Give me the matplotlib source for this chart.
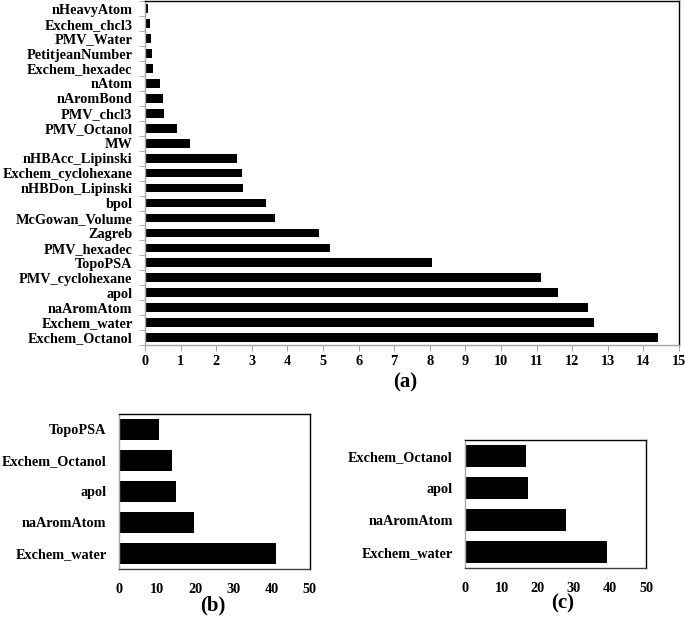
import matplotlib
matplotlib.use("Agg")
import matplotlib.pyplot as plt
import numpy as np

plt.rcParams['font.family'] = ['Liberation Serif', 'DejaVu Serif']
plt.rcParams['font.weight'] = 'bold'

# (a) descriptor importance, bottom to top
a_labels = ['Exchem_Octanol', 'Exchem_water', 'naAromAtom', 'apol', 'PMV_cyclohexane',
            'TopoPSA', 'PMV_hexadec', 'Zagreb', 'McGowan_Volume', 'bpol',
            'nHBDon_Lipinski', 'Exchem_cyclohexane', 'nHBAcc_Lipinski', 'MW',
            'PMV_Octanol', 'PMV_chcl3', 'nAromBond', 'nAtom', 'Exchem_hexadec',
            'PetitjeanNumber', 'PMV_Water', 'Exchem_chcl3', 'nHeavyAtom']
a_values = [14.42, 12.62, 12.45, 11.6, 11.12,
            8.05, 5.19, 4.9, 3.64, 3.39,
            2.75, 2.73, 2.57, 1.26,
            0.9, 0.53, 0.5, 0.42, 0.23,
            0.2, 0.18, 0.13, 0.08]
a_ticks = list(range(0, 16))

# (b)
b_labels = ['Exchem_water', 'naAromAtom', 'apol', 'Exchem_Octanol', 'TopoPSA']
b_values = [41.1, 19.7, 14.8, 13.8, 10.6]

# (c)
c_labels = ['Exchem_water', 'naAromAtom', 'apol', 'Exchem_Octanol']
c_values = [39.1, 27.8, 17.2, 16.7]
bc_ticks = [0, 10, 20, 30, 40, 50]

GRAY = '#a6a6a6'
FS = 10.3


def style_axes(ax, bottom_color):
    ax.spines['left'].set_color(GRAY)
    ax.spines['bottom'].set_color(bottom_color)
    ax.spines['top'].set_color('black')
    ax.spines['right'].set_color('black')
    for s in ax.spines.values():
        s.set_linewidth(1.0)


fig = plt.figure(figsize=(6.85, 6.2), dpi=100)

# panel (a)
ax1 = fig.add_axes([0.2117, 0.4435, 0.7796, 0.5545])
y = np.arange(len(a_labels))
ax1.barh(y, a_values, height=0.58, color='black')
ax1.set_xlim(0, 15)
ax1.set_ylim(-0.5, len(a_labels) - 0.5)
ax1.set_xticks(a_ticks)
ax1.set_yticks(y)
ax1.set_yticklabels(a_labels)
ax1.set_yticks(np.arange(-0.5, len(a_labels)), minor=True)
ax1.tick_params(axis='y', which='major', length=0, pad=9, labelsize=FS)
ax1.tick_params(axis='y', which='minor', length=4, color=GRAY)
ax1.tick_params(axis='x', length=4, color=GRAY, pad=3, labelsize=FS)
style_axes(ax1, GRAY)
fig.text(0.591, 0.383, '(a)', ha='center', va='center', fontsize=15, fontweight='bold')

# panel (b)
ax2 = fig.add_axes([0.1737, 0.0823, 0.2788, 0.25])
yb = np.arange(len(b_labels))
ax2.barh(yb, b_values, height=0.65, color='black')
ax2.set_xlim(0, 50)
ax2.set_ylim(-0.5, len(b_labels) - 0.5)
ax2.set_xticks(bc_ticks)
ax2.set_yticks(yb)
ax2.set_yticklabels(b_labels)
ax2.tick_params(axis='both', length=0, labelsize=FS)
ax2.tick_params(axis='y', pad=9)
ax2.tick_params(axis='x', pad=10)
style_axes(ax2, '#404040')
fig.text(0.31, 0.024, '(b)', ha='center', va='center', fontsize=15, fontweight='bold')

# panel (c)
ax3 = fig.add_axes([0.6793, 0.0839, 0.2642, 0.2065])
yc = np.arange(len(c_labels))
ax3.barh(yc, c_values, height=0.68, color='black')
ax3.set_xlim(0, 50)
ax3.set_ylim(-0.5, len(c_labels) - 0.5)
ax3.set_xticks(bc_ticks)
ax3.set_yticks(yc)
ax3.set_yticklabels(c_labels)
ax3.tick_params(axis='both', length=0, labelsize=FS)
ax3.tick_params(axis='y', pad=9)
ax3.tick_params(axis='x', pad=10)
style_axes(ax3, '#404040')
fig.text(0.822, 0.027, '(c)', ha='center', va='center', fontsize=15, fontweight='bold')

fig.savefig('out.png', dpi=100)
